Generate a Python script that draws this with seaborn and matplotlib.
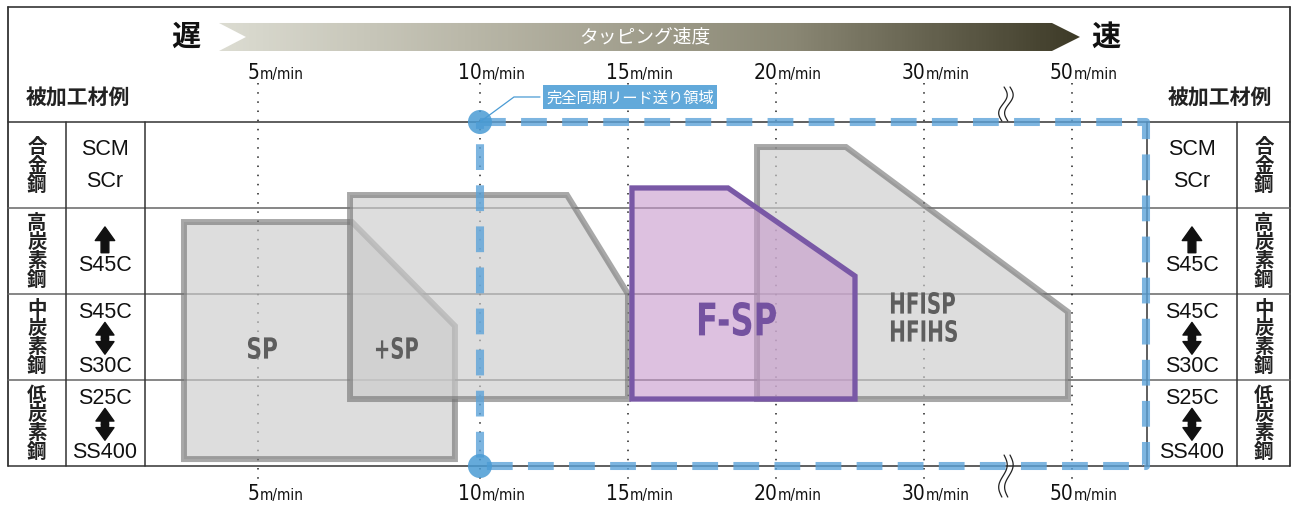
import numpy as np
import pandas as pd
import seaborn as sns
import matplotlib.pyplot as plt
from matplotlib.patches import Polygon, PathPatch
from matplotlib.colors import LinearSegmentedColormap
from matplotlib.textpath import TextPath
from matplotlib.font_manager import FontProperties
from matplotlib.transforms import Affine2D

sns.set_theme(style="white")
plt.rcParams['font.family'] = ['Noto Sans CJK JP', 'DejaVu Sans']
NARROW = dict(family='DejaVu Sans', fontstretch='condensed')
SANS = ['Liberation Sans', 'DejaVu Sans']

# --- data -------------------------------------------------------------
# speed axis: labels and their positions on the (non linear) speed scale
speeds = ['5', '10', '15', '20', '30', '50']
speed_pos = [0, 1.5, 2.5, 3.5, 4.5, 5.5]

# material rows, top to bottom
row_names = ['合金鋼', '高炭素鋼', '中炭素鋼', '低炭素鋼']
grade_top = ['SCM', None, 'S45C', 'S25C']
grade_bottom = ['SCr', 'S45C', 'S30C', 'SS400']
grade_arrow = [None, 'up', 'both', 'both']

# tap series ranges (speed position, row position)
sp_x = [-0.5, 0.635, 1.331, 1.331, -0.5]
sp_y = [1.163, 1.163, 2.372, 3.919, 3.919]
psp_x = [0.622, 2.088, 2.5, 2.5, 0.622]
psp_y = [0.849, 0.849, 2.0, 3.221, 3.221]
fsp_x = [2.527, 3.176, 4.034, 4.034, 2.527]
fsp_y = [0.767, 0.767, 1.791, 3.221, 3.221]
hf_x = [3.372, 3.973, 5.473, 5.473, 3.372]
hf_y = [0.291, 0.291, 2.209, 3.221, 3.221]

# synchronized lead feed zone
sync_x = [1.5, 6.0]
sync_y = [0, 4]

# --- layout helpers (pixel -> axis units) -------------------------------
def X(px):
    return (px - 258) / 148.0

def Y(py):
    return (py - 123) / 86.0

fig = plt.figure(figsize=(12.95, 5.06), dpi=100)
ax = fig.add_axes([0, 0, 1, 1])

# header gradient arrow
cmap = LinearSegmentedColormap.from_list('g', ['#dcdcd2', '#b4b2a2', '#8a8774', '#3d3a27'])
grad = np.linspace(0, 1, 256).reshape(1, -1)
im = ax.imshow(grad, cmap=cmap, aspect='auto', extent=[X(219), X(1080), Y(52), Y(24)], zorder=1)
arrow_poly = Polygon([(X(219), Y(24)), (X(1052), Y(24)), (X(1080), Y(38)), (X(1052), Y(52)),
                      (X(219), Y(52)), (X(246), Y(38))], closed=True, transform=ax.transData,
                     facecolor='none', edgecolor='none')
ax.add_patch(arrow_poly)
im.set_clip_path(arrow_poly)
ax.text(X(645), Y(38), 'タッピング速度', color='white', fontsize=13.5, ha='center', va='center', zorder=3)
ax.text(X(186), Y(37), '遅', fontsize=21, weight='bold', ha='center', va='center', color='#111')
ax.text(X(1106), Y(37), '速', fontsize=21, weight='bold', ha='center', va='center', color='#111')

# frame and table lines
left, right = X(8), X(1290)
ax.plot([left, right], [Y(8), Y(8)], color='#444', lw=1.3, zorder=2)
ax.plot([left, left], [Y(8), 4], color='#333', lw=1.3, zorder=2)
ax.plot([right, right], [Y(8), 4], color='#333', lw=1.3, zorder=2)
for r in range(5):
    ax.plot([left, right], [r, r], color='#333' if r in (0, 4) else '#666', lw=1.1, zorder=2)
for cx in [X(66), X(145), X(1147), X(1237)]:
    ax.plot([cx, cx], [0, 4], color='#333', lw=1.1, zorder=2)

# dotted speed lines
for p in speed_pos:
    ax.plot([p, p], [Y(84), Y(484)], color='#222', lw=1.1, ls=(0, (1, 5)), zorder=2)

# speed labels (top and bottom)
for s, p in zip(speeds, speed_pos):
    for yb in (Y(79), Y(500)):
        ax.text(p + 0.01, yb, s, ha='right', va='baseline', fontsize=15, color='#111', **NARROW)
        ax.text(p + 0.01, yb, 'm/min', ha='left', va='baseline', fontsize=11, color='#111', **NARROW)

ax.text(X(78), Y(98), '被加工材例', fontsize=15, weight='bold', ha='center', va='center', color='#222')
ax.text(X(1220), Y(98), '被加工材例', fontsize=15, weight='bold', ha='center', va='center', color='#222')

# table text
def arrow(cx, y_from, y_to, w):
    ax.annotate('', xy=(cx, y_to), xytext=(cx, y_from),
                arrowprops=dict(arrowstyle='simple,head_length=0.7,head_width=1.0,tail_width=0.4',
                                color='#111', mutation_scale=w, shrinkA=0, shrinkB=0), zorder=4)

def grades(cx, i):
    r = i
    if grade_arrow[i] == 'up':
        arrow(cx, r + 0.52, r + 0.22, 14)
        ax.text(cx, r + 0.66, grade_bottom[i], fontsize=15.5, family=SANS, ha='center', va='center', color='#111')
        return
    if grade_arrow[i] is None:
        ax.text(cx, r + 0.31, grade_top[i], fontsize=15.5, family=SANS, ha='center', va='center', color='#111')
        ax.text(cx, r + 0.68, grade_bottom[i], fontsize=15.5, family=SANS, ha='center', va='center', color='#111')
        return
    ax.text(cx, r + 0.2, grade_top[i], fontsize=15.5, family=SANS, ha='center', va='center', color='#111')
    mid = r + 0.515
    arrow(cx, mid, r + 0.33, 13)
    arrow(cx, mid, r + 0.70, 13)
    ax.text(cx, r + 0.83, grade_bottom[i], fontsize=15.5, family=SANS, ha='center', va='center', color='#111')

for i, name in enumerate(row_names):
    for cx in (X(37), X(1264)):
        ax.text(cx, i + 0.5, '\n'.join(name), fontsize=14, weight='bold', ha='center', va='center',
                linespacing=1.0, color='#222')
    grades(X(105), i)
    grades(X(1192), i)

# tap series shapes
gray_fill = (0.80, 0.80, 0.80, 0.65)
gray_edge = (0.45, 0.45, 0.45, 0.62)
for xs, ys in [(hf_x, hf_y), (sp_x, sp_y), (psp_x, psp_y)]:
    ax.fill(xs, ys, facecolor=gray_fill, edgecolor='none', zorder=3)
    ax.add_patch(Polygon(list(zip(xs, ys)), closed=True, fill=False, edgecolor=gray_edge,
                         lw=4.3, joinstyle='miter', zorder=3))
ax.fill(fsp_x, fsp_y, facecolor=(0.78, 0.60, 0.80, 0.6), edgecolor='#7958a6', lw=3.8,
        joinstyle='miter', zorder=4)

# synchronized lead feed zone
blue = (0.36, 0.64, 0.85, 0.8)
dash = (0, (3.2, 1.9))
ax.plot([sync_x[0], sync_x[1], sync_x[1], sync_x[0], sync_x[0]],
        [sync_y[0], sync_y[0], sync_y[1], sync_y[1], sync_y[0]],
        color=blue, lw=5.8, ls=dash, zorder=6)
pts = pd.DataFrame({'x': [sync_x[0], sync_x[0]], 'y': [sync_y[0], sync_y[1]]})
sns.scatterplot(data=pts, x='x', y='y', ax=ax, s=300, color='#4a9bd4', alpha=0.85,
                edgecolor='none', zorder=7, legend=False)
ax.plot([sync_x[0], X(514), X(540)], [sync_y[0], Y(98), Y(98)], color='#4a9bd4', lw=0.9, zorder=7)
ax.text(X(630), Y(98), '完全同期リード送り領域', fontsize=11, color='white', ha='center', va='center',
        zorder=8, bbox=dict(boxstyle='square,pad=0.2', facecolor='#62a9da', edgecolor='none'))

# axis break marks
t = np.linspace(0, 1, 40)
for y0, y1 in [(Y(88), Y(122)), (Y(456), Y(498))]:
    for off in (0, 0.04):
        xs = X(1003) + off + 0.025 * np.sin(2 * np.pi * t) - 0.015 * (t - 0.5)
        ax.plot(xs, y0 + (y1 - y0) * t, color='#222', lw=0.9, zorder=8)

ax.set_xlim(-1.743, 7.007)
ax.set_ylim(4.453, -1.430)
ax.axis('off')

# condensed series labels, fitted into a box (pixel box of the reference lettering)
fp = FontProperties(family='DejaVu Sans', weight='bold')
def boxed_label(s, x0, x1, y0, y1, color):
    path = TextPath((0, 0), s, size=20, prop=fp)
    bb = path.get_extents()
    a = ax.transData.transform((X(x0), Y(y1)))
    b = ax.transData.transform((X(x1), Y(y0)))
    tr = (Affine2D().translate(-bb.x0, -bb.y0)
          .scale((b[0] - a[0]) / bb.width, (b[1] - a[1]) / bb.height)
          .translate(a[0], a[1]))
    ax.add_patch(PathPatch(path, transform=tr, facecolor=color, edgecolor='none', zorder=5))

boxed_label('SP', 248, 277, 338, 360, '#5e5e5e')
boxed_label('+SP', 376, 418, 338, 360, '#5e5e5e')
boxed_label('F-SP', 699, 776, 303, 337, '#7452a0')
boxed_label('HFISP', 891, 955, 293, 315, '#5e5e5e')
boxed_label('HFIHS', 891, 957, 321, 343, '#5e5e5e')

fig.savefig('out.png', dpi=100)
